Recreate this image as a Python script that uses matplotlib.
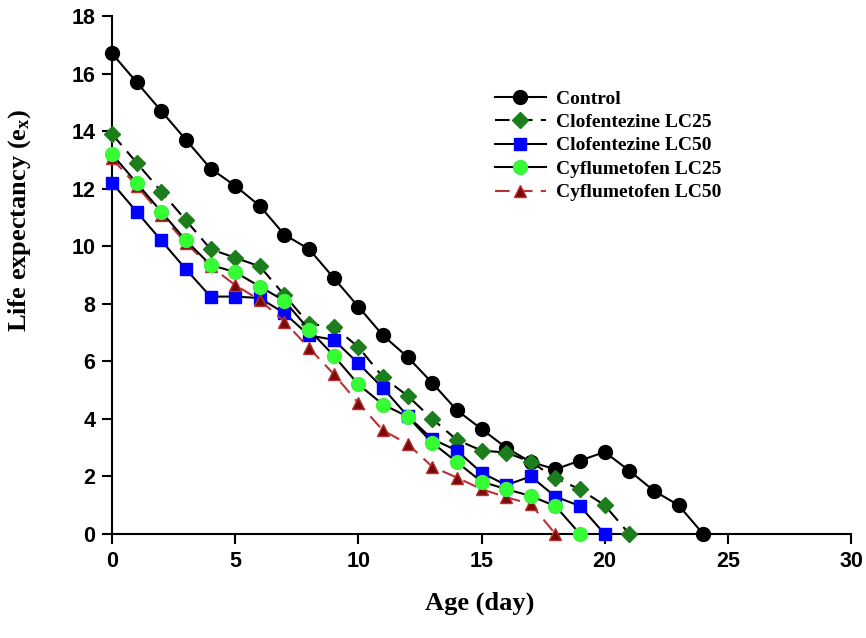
import matplotlib
matplotlib.use("Agg")
import matplotlib.pyplot as plt
from matplotlib.lines import Line2D

plt.rcParams["mathtext.fontset"] = "custom"
plt.rcParams["mathtext.rm"] = "Liberation Serif"
plt.rcParams["mathtext.bf"] = "Liberation Serif:bold"
plt.rcParams["mathtext.it"] = "Liberation Serif:italic"

control_x = list(range(0, 25))
control_y = [16.7, 15.7, 14.7, 13.7, 12.7, 12.1, 11.4, 10.4, 9.9, 8.9, 7.9, 6.9,
             6.15, 5.25, 4.3, 3.65, 3.0, 2.5, 2.25, 2.55, 2.85, 2.2, 1.5, 1.0, 0.0]

clo25_x = list(range(0, 22))
clo25_y = [13.9, 12.9, 11.9, 10.9, 9.9, 9.6, 9.3, 8.3, 7.3, 7.2, 6.5, 5.45,
           4.8, 4.0, 3.27, 2.9, 2.83, 2.51, 1.94, 1.55, 1.0, 0.0]

clo50_x = list(range(0, 21))
clo50_y = [12.2, 11.2, 10.2, 9.2, 8.25, 8.25, 8.2, 7.67, 6.9, 6.75, 5.93, 5.07,
           4.1, 3.3, 2.9, 2.13, 1.7, 2.0, 1.3, 0.97, 0.0]

cyf25_x = list(range(0, 20))
cyf25_y = [13.2, 12.2, 11.2, 10.2, 9.35, 9.1, 8.6, 8.1, 7.1, 6.2, 5.2, 4.5,
           4.08, 3.17, 2.5, 1.82, 1.56, 1.32, 0.97, 0.0]

cyf50_x = list(range(0, 19))
cyf50_y = [13.05, 12.1, 11.1, 10.1, 9.3, 8.65, 8.13, 7.38, 6.46, 5.56, 4.55, 3.6,
           3.13, 2.34, 1.96, 1.56, 1.28, 1.04, 0.0]

labels = ["Control", "Clofentezine LC25", "Clofentezine LC50",
          "Cyflumetofen LC25", "Cyflumetofen LC50"]
x_ticks = [0, 5, 10, 15, 20, 25, 30]
y_ticks = [0, 2, 4, 6, 8, 10, 12, 14, 16, 18]

fig = plt.figure(figsize=(8.66, 6.38), dpi=100)
ax = fig.add_axes([112/866, 1-534/638, (851-112)/866, (534-16)/638])

styles = [
    dict(color="black", ls="-", marker="o", ms=10, mfc="black", mec="black"),
    dict(color="black", ls=(0, (7, 4)), marker="D", ms=8, mfc="#1b7d1b", mec="#1b7d1b"),
    dict(color="black", ls="-", marker="s", ms=9, mfc="#0000ff", mec="#0000ff"),
    dict(color="black", ls="-", marker="o", ms=10, mfc="#33ff33", mec="#44ee44"),
    dict(color="#b83232", ls=(0, (7, 4)), marker="^", ms=9, mfc="#7a0a0a", mec="#b83232"),
]
series = [(control_x, control_y), (clo25_x, clo25_y), (clo50_x, clo50_y),
          (cyf25_x, cyf25_y), (cyf50_x, cyf50_y)]

order = [0, 1, 2, 4, 3]
for i in order:
    xs, ys = series[i]
    ax.plot(xs, ys, lw=1.5, label=labels[i], clip_on=False, zorder=3, **styles[i])

handles = [Line2D([], [], lw=1.5, **styles[i]) for i in range(5)]

ax.set_xlim(0, 30)
ax.set_ylim(0, 18)
ax.set_xticks(x_ticks)
ax.set_yticks(y_ticks)
for s in ["top", "right"]:
    ax.spines[s].set_visible(False)
for s in ["left", "bottom"]:
    ax.spines[s].set_linewidth(1.5)
ax.tick_params(direction="out", length=7, width=1.5, labelsize=15.5, pad=5)
for lab in ax.get_xticklabels() + ax.get_yticklabels():
    lab.set_fontfamily("Liberation Sans")
    lab.set_fontweight("bold")

ax.set_xlabel("Age (day)", fontfamily="Liberation Serif", fontweight="bold",
              fontsize=19)
ax.set_ylabel(r"Life expectancy (e$_\mathbf{x}$)", fontfamily="Liberation Serif",
              fontweight="bold", fontsize=19)
ax.xaxis.set_label_coords(0.497, -0.112)
ax.yaxis.set_label_coords(-0.107, 0.606)

fig.legend(handles, labels, loc="upper left",
           bbox_to_anchor=(495/866, 1-90/638), frameon=False,
           prop=dict(family="Liberation Serif", weight="bold", size=14),
           handlelength=2.6, handletextpad=0.55, labelspacing=0.3,
           borderpad=0, borderaxespad=0)

fig.savefig("out.png", dpi=100)
